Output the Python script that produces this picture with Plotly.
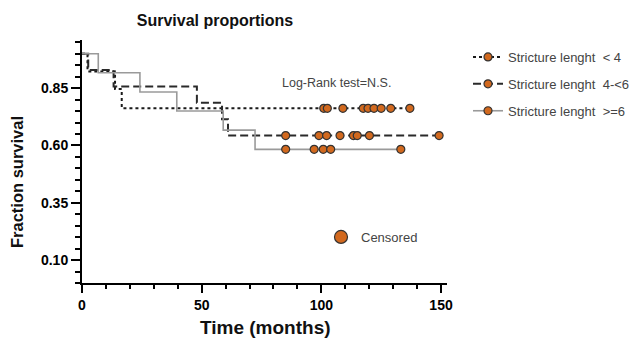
import plotly.graph_objects as go

# ---- data ----
names = ["Stricture lenght  < 4", "Stricture lenght  4-<6", "Stricture lenght  >=6"]

# step (event) times and survival level after each step
short_times = [0, 2.3, 13.8, 16.6]
short_surv = [1.0, 0.923, 0.846, 0.762]
short_end = 137
short_cens = [101, 102.5, 109, 117.5, 119.5, 122, 125, 129, 137]

mid_times = [0, 2.6, 13.2, 48.0, 58.5, 61.0]
mid_surv = [1.0, 0.929, 0.857, 0.786, 0.714, 0.643]
mid_end = 149.2
mid_cens = [85.1, 99.0, 102.2, 107.8, 113.4, 115.0, 120.1, 149.2]

long_times = [0, 6.8, 24.2, 39.6, 59.0, 72.3]
long_surv = [1.0, 0.917, 0.833, 0.75, 0.667, 0.583]
long_end = 133.2
long_cens = [85.1, 97.0, 100.8, 103.9, 133.2]

x_ticks = [0, 50, 100, 150]
y_ticks = [0.10, 0.35, 0.60, 0.85]
y_ticktext = ["0.10", "0.35", "0.60", "0.85"]

FONT = "Arial, Liberation Sans, sans-serif"
ORANGE = "#d2691e"

# page body adds an 8px offset; layout below is expressed in window pixels
OFF = 8
W, H = 637 - OFF, 345 - OFF
PL, PR, PT, PB = 82, 447, 40, 283  # plot area in window pixels


def px_x(x):
    return (x - PL) / (PR - PL)


def px_y(y):
    return (PB - y) / (PB - PT)


def level_at(times, surv, t):
    v = surv[0]
    for ti, si in zip(times, surv):
        if ti <= t:
            v = si
    return v


groups = [
    (names[0], short_times, short_surv, short_end, short_cens, dict(color="#1a1a1a", width=2, dash="dot")),
    (names[1], mid_times, mid_surv, mid_end, mid_cens, dict(color="#2a2a2a", width=2, dash="8px,4px")),
    (names[2], long_times, long_surv, long_end, long_cens, dict(color="#9a9a9a", width=1.6, dash="solid")),
]

fig = go.Figure()
for nm, ts, ss, end, cens, ln in groups:
    xs = list(ts) + [end]
    ys = list(ss) + [ss[-1]]
    fig.add_trace(go.Scatter(
        x=xs, y=ys, mode="lines", line=dict(shape="hv", **ln),
        showlegend=False, hoverinfo="skip", legendgroup=nm,
    ))
    fig.add_trace(go.Scatter(
        x=cens, y=[level_at(ts, ss, c) for c in cens], mode="markers",
        marker=dict(size=8, color=ORANGE, line=dict(color="#333", width=1.2)),
        showlegend=False, legendgroup=nm,
    ))
    fig.add_trace(go.Scatter(
        x=[None], y=[None], mode="lines+markers", name=nm, legendgroup=nm,
        line=ln, marker=dict(size=8, color=ORANGE, line=dict(color="#333", width=1.2)),
    ))

# "Censored" key
fig.add_trace(go.Scatter(
    x=[None], y=[None], mode="markers", name="Censored", legend="legend2",
    marker=dict(size=13, color=ORANGE, line=dict(color="#333", width=1.2)),
))

fig.update_layout(
    width=W, height=H,
    margin=dict(l=PL - OFF, r=W - (PR - OFF), t=PT - OFF, b=H - (PB - OFF), autoexpand=False),
    paper_bgcolor="white", plot_bgcolor="white",
    font=dict(family=FONT, color="black"),
    title=dict(text="<b>Survival proportions</b>", x=(215 - OFF) / W, xanchor="center",
               y=1 - (20 - OFF) / H, yanchor="middle", font=dict(size=16, color="#111")),
    showlegend=True,
    legend=dict(x=px_x(468), y=px_y(42), xanchor="left", yanchor="top",
                font=dict(size=13, color="#444"), bgcolor="rgba(0,0,0,0)",
                tracegroupgap=7, itemwidth=30),
    legend2=dict(x=px_x(321), y=px_y(237), xanchor="left", yanchor="middle",
                 font=dict(size=13, color="#444"), bgcolor="rgba(0,0,0,0)"),
    xaxis=dict(range=[0, 152.5], showline=True, linewidth=2, linecolor="black",
               ticks="outside", ticklen=8, tickwidth=2, tickcolor="black",
               tickvals=x_ticks, showgrid=False, zeroline=False,
               tickfont=dict(size=14, weight="bold"),
               minor=dict(dtick=10, tick0=0, ticks="outside", ticklen=4, tickwidth=2,
                          tickcolor="black", showgrid=False)),
    yaxis=dict(range=[0, 1.06], showline=True, linewidth=2, linecolor="black",
               ticks="outside", ticklen=9, tickwidth=2, tickcolor="black",
               tickvals=y_ticks, ticktext=y_ticktext, showgrid=False, zeroline=False,
               tickfont=dict(size=14, weight="bold"),
               minor=dict(dtick=0.05, tick0=0, ticks="outside", ticklen=5, tickwidth=2,
                          tickcolor="black", showgrid=False)),
    annotations=[
        dict(text="Log-Rank test=N.S.", xref="paper", yref="paper",
             x=px_x(336), y=px_y(83), showarrow=False,
             xanchor="center", yanchor="middle", font=dict(size=12.5, color="#444")),
        dict(text="<b>Fraction survival</b>", xref="paper", yref="paper",
             x=px_x(17), y=px_y(182), showarrow=False, textangle=-90,
             xanchor="center", yanchor="middle", font=dict(size=16.5, color="#111")),
        dict(text="<b>Time (months)</b>", xref="paper", yref="paper",
             x=px_x(265), y=px_y(327), showarrow=False,
             xanchor="center", yanchor="middle", font=dict(size=19, color="#111")),
    ],
)

fig.write_html("out.html")
